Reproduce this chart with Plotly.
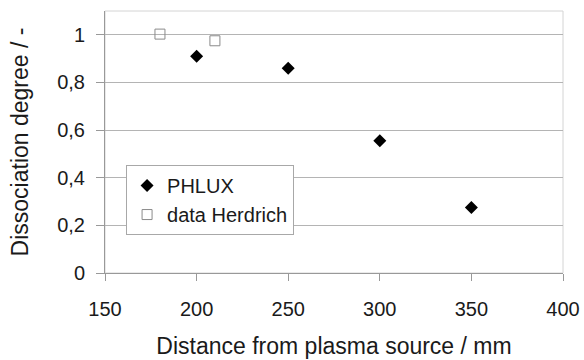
import plotly.graph_objects as go

phlux_x = [200, 250, 300, 350]
phlux_y = [0.91, 0.86, 0.555, 0.275]
herd_x = [180, 210]
herd_y = [1.003, 0.975]
x_ticks = [150, 200, 250, 300, 350, 400]
y_ticks = [0, 0.2, 0.4, 0.6, 0.8, 1]
y_tick_text = ["0", "0,2", "0,4", "0,6", "0,8", "1"]

FAM = "Liberation Sans, Arial, sans-serif"
fig = go.Figure()
fig.add_trace(go.Scatter(x=phlux_x, y=phlux_y, mode="markers", name="PHLUX",
                         marker=dict(symbol="diamond", size=10, color="black")))
fig.add_trace(go.Scatter(x=herd_x, y=herd_y, mode="markers", name="data Herdrich",
                         marker=dict(symbol="square-open", size=10, color="#8a8a8a",
                                     line=dict(width=1))))

fig.update_layout(
    width=584, height=360, margin=dict(l=105, r=21, t=11, b=87),
    paper_bgcolor="white", plot_bgcolor="white",
    font=dict(family=FAM, size=19.5, color="#1a1a1a"),
    separators=", ", showlegend=True,
    legend=dict(x=0.046, y=0.412, xanchor="left", yanchor="top",
                bordercolor="#a8a8a8", borderwidth=1, bgcolor="white",
                font=dict(family=FAM, size=20, color="#1a1a1a"),
                itemwidth=30, tracegroupgap=0),
    shapes=[dict(type="rect", xref="paper", yref="paper", x0=0, x1=1, y0=0, y1=1,
                 line=dict(color="#d4d4d4", width=1), layer="below")],
    xaxis=dict(range=[150, 400], tickvals=x_ticks, showgrid=False,
               showline=True, linecolor="#999", linewidth=1,
               ticks="outside", ticklen=7, tickcolor="#999",
               ticklabelstandoff=11, automargin=False,
               tickfont=dict(family=FAM, size=20, color="#1a1a1a"),
               title=dict(text="Distance from plasma source / mm", standoff=18),
               zeroline=False),
    yaxis=dict(range=[0, 1.1], tickvals=y_ticks, ticktext=y_tick_text,
               showgrid=True, gridcolor="#b4b4b4", gridwidth=1,
               showline=True, linecolor="#999", linewidth=1,
               ticks="outside", ticklen=8, tickcolor="#999",
               ticklabelstandoff=7, automargin=False,
               tickfont=dict(family=FAM, size=20, color="#1a1a1a"),
               title=dict(text="Dissociation degree / -", standoff=22),
               zeroline=False),
)
fig.write_html("out.html")
